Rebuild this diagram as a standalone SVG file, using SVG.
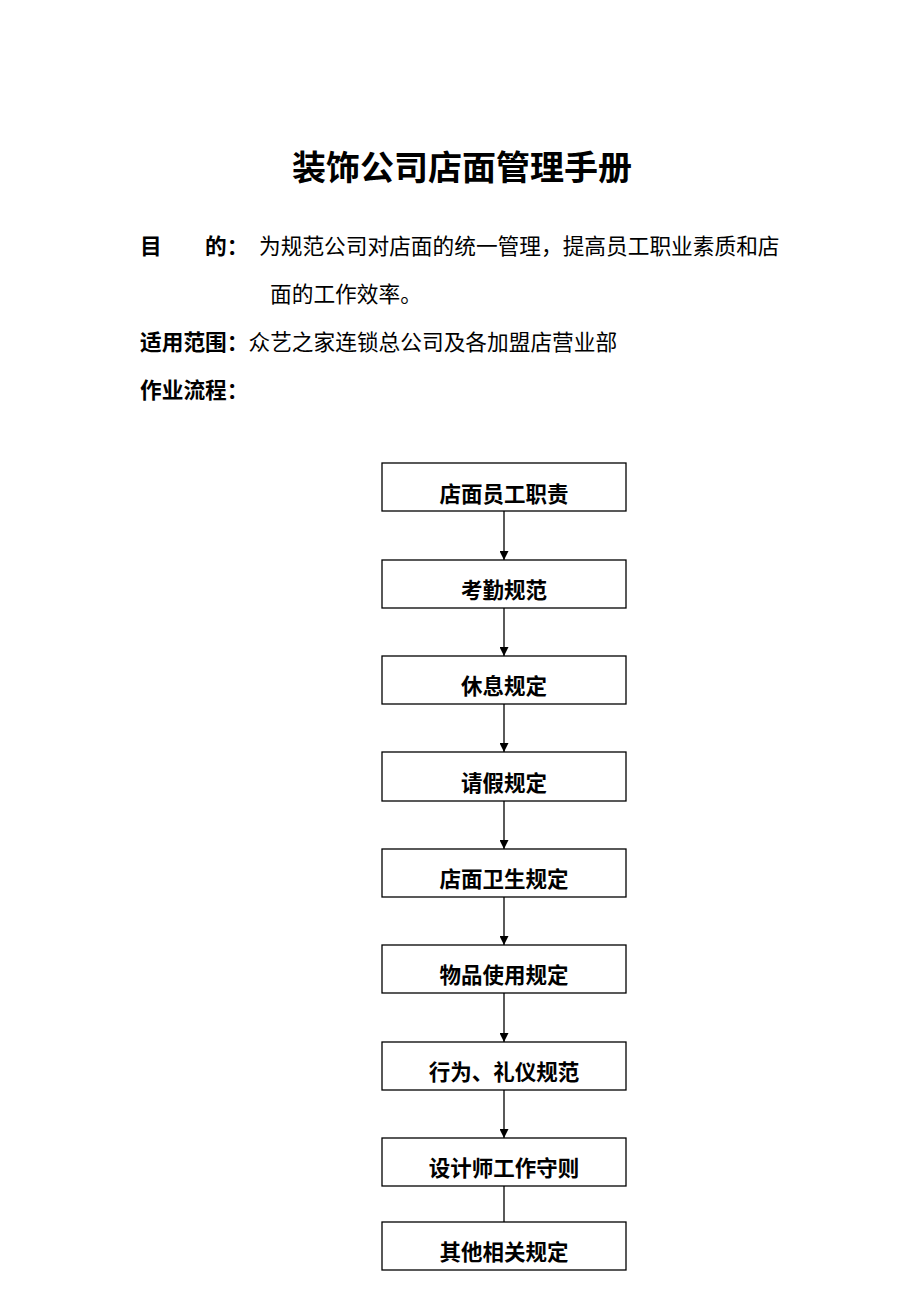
<svg xmlns="http://www.w3.org/2000/svg" width="920" height="1302" viewBox="0 0 920 1302">
<style>
.t{font-family:"Liberation Sans","Noto Sans CJK SC",sans-serif;fill:#000}
.title{font-size:34px;font-weight:bold}
.body{font-size:21.7px}
.b{font-weight:bold}
.box rect{fill:#fff;stroke:#000;stroke-width:1.3}
.box text{font-family:"Liberation Sans","Noto Sans CJK SC",sans-serif;font-size:21.5px;font-weight:bold;text-anchor:middle;fill:#000}
.conn line{stroke:#000;stroke-width:1.3}
</style>
<defs>
<marker id="ah" viewBox="0 0 10 10" refX="10" refY="5" markerWidth="9" markerHeight="9" markerUnits="userSpaceOnUse" orient="auto">
<path d="M0,0 L10,5 L0,10 z" fill="#000"/>
</marker>
</defs>
<rect width="920" height="1302" fill="#fff"/>
<text class="t title" x="462" y="180" text-anchor="middle">装饰公司店面管理手册</text>
<text class="t body b" x="140" y="254">目</text>
<text class="t body b" x="205" y="254">的：</text>
<text class="t body" x="259" y="254">为规范公司对店面的统一管理，提高员工职业素质和店</text>
<text class="t body" x="270" y="302">面的工作效率。</text>
<text class="t body" x="140" y="350"><tspan class="b">适用范围：</tspan>众艺之家连锁总公司及各加盟店营业部</text>
<text class="t body b" x="140" y="398">作业流程：</text>
<g class="conn">
<line x1="504" y1="511" x2="504" y2="560" marker-end="url(#ah)"/>
<line x1="504" y1="608" x2="504" y2="656" marker-end="url(#ah)"/>
<line x1="504" y1="704" x2="504" y2="752" marker-end="url(#ah)"/>
<line x1="504" y1="801" x2="504" y2="849" marker-end="url(#ah)"/>
<line x1="504" y1="897" x2="504" y2="945" marker-end="url(#ah)"/>
<line x1="504" y1="993" x2="504" y2="1042" marker-end="url(#ah)"/>
<line x1="504" y1="1090" x2="504" y2="1138" marker-end="url(#ah)"/>
<line x1="504" y1="1186" x2="504" y2="1222"/>
</g>
<g id="n1" class="box"><rect x="382" y="463" width="244" height="48"/><text x="504" y="502">店面员工职责</text></g>
<g id="n2" class="box"><rect x="382" y="560" width="244" height="48"/><text x="504" y="598">考勤规范</text></g>
<g id="n3" class="box"><rect x="382" y="656" width="244" height="48"/><text x="504" y="694">休息规定</text></g>
<g id="n4" class="box"><rect x="382" y="752" width="244" height="49"/><text x="504" y="791">请假规定</text></g>
<g id="n5" class="box"><rect x="382" y="849" width="244" height="48"/><text x="504" y="887">店面卫生规定</text></g>
<g id="n6" class="box"><rect x="382" y="945" width="244" height="48"/><text x="504" y="983">物品使用规定</text></g>
<g id="n7" class="box"><rect x="382" y="1042" width="244" height="48"/><text x="504" y="1080">行为、礼仪规范</text></g>
<g id="n8" class="box"><rect x="382" y="1138" width="244" height="48"/><text x="504" y="1176">设计师工作守则</text></g>
<g id="n9" class="box"><rect x="382" y="1222" width="244" height="48"/><text x="504" y="1260">其他相关规定</text></g>
</svg>
